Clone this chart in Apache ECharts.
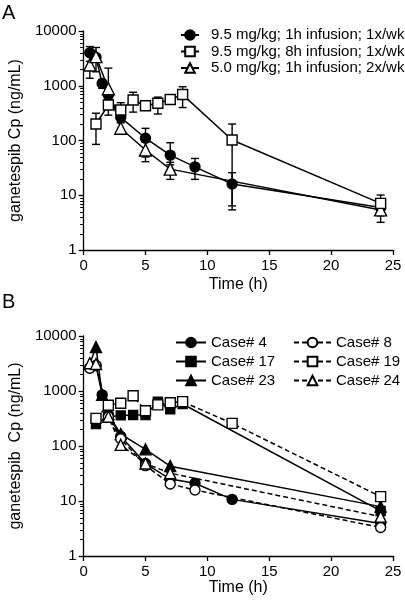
<!DOCTYPE html>
<html><head><meta charset="utf-8">
<script src="https://cdn.jsdelivr.net/npm/echarts@6/dist/echarts.min.js"></script>
<style>html,body{margin:0;padding:0;background:#fff}#c{width:405px;height:602px}</style>
</head><body><div id="c"></div>
<script>
// ---------- axis ticks ----------
const xTicks = [0, 5, 10, 15, 20, 25];
const yTickLabels = ['1', '10', '100', '1000', '10000'];

// ---------- Panel A (mean ± SD) ----------
const namesA = ['9.5 mg/kg; 1h infusion; 1x/wk', '9.5 mg/kg; 8h infusion; 1x/wk', '5.0 mg/kg; 1h infusion; 2x/wk'];
const tA1 = [0.5, 1, 1.5, 2, 3, 5, 7, 9, 12, 24];
const cpA1 = [4000, 3300, 1100, 680, 265, 110, 54, 33, 16, 6.0];
const loA1 = [2800, null, 900, 560, 215, 50, 36, 19.5, 6.4, 4.5];
const hiA1 = [5200, null, 1300, 800, 315, 167, 91, 47, 25.8, 7.5];

const tA2 = [1, 2, 3, 4, 5, 6, 7, 8, 12, 24];
const cpA2 = [200, 445, 360, 550, 430, 480, 560, 690, 102, 7.1];
const loA2 = [85, 290, 255, 330, 380, 305, 510, 400, 5.4, 4.2];
const hiA2 = [315, 630, 490, 760, 480, 620, 610, 960, 200, 10.1];

const tA3 = [0.5, 1, 2, 3, 5, 7, 24];
const cpA3 = [2400, 3400, 880, 167, 67, 30, 5.4];
const loA3 = [1370, 1800, 450, 130, 41, 19.5, 3.2];
const hiA3 = [3600, 5000, 2100, 210, 93, 40, 7.6];

// ---------- Panel B (individual cases) ----------
const namesB = ['Case# 4', 'Case# 17', 'Case# 23', 'Case# 8', 'Case# 19', 'Case# 24'];
const tB4 = [0.5, 1, 1.5, 2, 3, 5, 7, 9, 12, 24];
const cpB4 = [2650, 2900, 850, 360, 150, 48, 25, 21, 10.7, 3.9];
const tB17 = [1, 2, 3, 4, 5, 6, 7, 8, 24];
const cpB17 = [250, 340, 360, 365, 365, 640, 465, 580, 6.6];
const tB23 = [0.5, 1, 1.5, 2, 3, 5, 7, 24];
const cpB23 = [3100, 6300, 850, 380, 165, 87, 43, 7.9];
const tB8 = [0.5, 1, 2, 3, 5, 7, 9, 24];
const cpB8 = [2600, 2900, 340, 135, 44, 20.4, 15.8, 3.3];
const tB19 = [1, 2, 3, 4, 5, 6, 7, 8, 12, 24];
const cpB19 = [318, 550, 600, 820, 437, 560, 610, 640, 258, 12];
const tB24 = [0.5, 1, 2, 3, 5, 7, 24];
const cpB24 = [3200, 3100, 340, 105, 48, 32, 5.2];

// ---------- helpers ----------
const FONT = "'Liberation Sans', Arial, Helvetica, sans-serif";
const BLACK = '#000';
const pairs = (t, v) => t.map((x, i) => [x, v[i]]);

function lineSeries(name, gi, t, v, symbol, size, filled, dashed) {
  return {
    name, type: 'line', xAxisIndex: gi, yAxisIndex: gi,
    data: pairs(t, v), symbol, symbolSize: size, z: 3,
    showAllSymbol: true, animation: false,
    lineStyle: { color: BLACK, width: 1.5, type: dashed ? [5, 3] : 'solid' },
    itemStyle: { color: filled ? BLACK : '#fff', borderColor: BLACK, borderWidth: 1.4, opacity: 1 },
    emphasis: { disabled: true }
  };
}

function errorSeries(gi, t, lo, hi) {
  const data = [];
  t.forEach((x, i) => { if (lo[i] != null) data.push([x, lo[i], hi[i]]); });
  return {
    type: 'custom', xAxisIndex: gi, yAxisIndex: gi, data, z: 2, silent: true, clip: false,
    encode: { x: 0, y: [1, 2] }, animation: false,
    renderItem(params, api) {
      const x = api.value(0);
      const p1 = api.coord([x, api.value(1)]);
      const p2 = api.coord([x, api.value(2)]);
      const w = 4;
      const st = { stroke: BLACK, lineWidth: 1.4 };
      return { type: 'group', children: [
        { type: 'line', shape: { x1: p1[0], y1: p1[1], x2: p2[0], y2: p2[1] }, style: st },
        { type: 'line', shape: { x1: p1[0] - w, y1: p1[1], x2: p1[0] + w, y2: p1[1] }, style: st },
        { type: 'line', shape: { x1: p2[0] - w, y1: p2[1], x2: p2[0] + w, y2: p2[1] }, style: st }
      ]};
    }
  };
}

function xAxis(gi, gap) {
  return {
    type: 'value', gridIndex: gi, min: 0, max: 25, interval: 5,
    name: 'Time (h)', nameLocation: 'middle', nameGap: gap,
    nameTextStyle: { fontFamily: FONT, fontSize: 16, color: BLACK },
    axisLine: { lineStyle: { color: BLACK, width: 1.3 } },
    axisTick: { inside: false, length: 5, lineStyle: { color: BLACK, width: 1.3 } },
    axisLabel: { fontFamily: FONT, fontSize: 15, color: BLACK, margin: 8,
                 formatter: v => xTicks.includes(v) ? String(v) : '' },
    splitLine: { show: false }
  };
}
function yAxis(gi, name) {
  return {
    type: 'log', logBase: 10, gridIndex: gi, min: 1, max: 10000,
    name, nameLocation: 'middle', nameGap: 42,
    nameTextStyle: { fontFamily: FONT, fontSize: 16, color: BLACK },
    axisLine: { show: true, lineStyle: { color: BLACK, width: 1.3 } },
    axisTick: { show: true, inside: false, length: 5, lineStyle: { color: BLACK, width: 1.3 } },
    axisLabel: { fontFamily: FONT, fontSize: 15, color: BLACK, margin: 7,
                 formatter: v => { const s = String(Math.round(v)); return yTickLabels.includes(s) ? s : ''; } },
    splitLine: { show: false }
  };
}

function legend(names, left, top, itemWidth, gap, pad) {
  return {
    data: names, orient: 'vertical', left, top, padding: 0,
    itemWidth, itemHeight: 12, itemGap: gap, selectedMode: false,
    textStyle: { fontFamily: FONT, fontSize: 15, color: BLACK, lineHeight: 15, padding: [0, 0, 0, pad] }
  };
}

const chart = echarts.init(document.getElementById('c'), null, { renderer: 'canvas' });
chart.setOption({
  animation: false,
  backgroundColor: '#fff',
  title: [
    { text: 'A', left: 2, top: 3, padding: 0, textStyle: { fontFamily: FONT, fontSize: 20, fontWeight: 'normal', color: BLACK } },
    { text: 'B', left: 2, top: 292, padding: 0, textStyle: { fontFamily: FONT, fontSize: 20, fontWeight: 'normal', color: BLACK } }
  ],
  grid: [
    { left: 65, right: 12, top: 31, height: 219 },
    { left: 65, right: 12, top: 336, height: 220 }
  ],
  xAxis: [xAxis(0, 27), xAxis(1, 18)],
  yAxis: [yAxis(0, 'ganetespib Cp (ng/mL)'), yAxis(1, 'ganetespib  Cp (ng/mL)')],
  legend: [
    legend(namesA, 180, 27.5, 18, 1.5, 7),
    legend(namesB.slice(0, 3), 175, 335, 30, 4, 0),
    legend(namesB.slice(3), 293, 335, 37, 4, 0)
  ],
  series: [
    errorSeries(0, tA1, loA1, hiA1),
    errorSeries(0, tA2, loA2, hiA2),
    errorSeries(0, tA3, loA3, hiA3),
    lineSeries(namesA[0], 0, tA1, cpA1, 'circle', 10, true, false),
    lineSeries(namesA[2], 0, tA3, cpA3, 'triangle', 12, false, false),
    lineSeries(namesA[1], 0, tA2, cpA2, 'rect', 10, false, false),

    lineSeries(namesB[0], 1, tB4, cpB4, 'circle', 10, true, false),
    lineSeries(namesB[1], 1, tB17, cpB17, 'rect', 9, true, false),
    lineSeries(namesB[2], 1, tB23, cpB23, 'triangle', 11, true, false),
    lineSeries(namesB[3], 1, tB8, cpB8, 'circle', 10, false, true),
    lineSeries(namesB[4], 1, tB19, cpB19, 'rect', 10, false, true),
    lineSeries(namesB[5], 1, tB24, cpB24, 'triangle', 11, false, true)
  ]
});

// log-axis minor ticks (2..9 in each decade), placed through the axes' own scale
const minorVals = [];
for (let d = 1; d < 10000; d *= 10) for (let m = 2; m <= 9; m++) minorVals.push(d * m);
const tickEls = [];
[0, 1].forEach(gi => {
  minorVals.forEach(v => {
    const p = chart.convertToPixel({ gridIndex: gi }, [0, v]);
    if (!p) return;
    const y = Math.round(p[1]) + 0.5;
    tickEls.push({ type: 'line', silent: true, z: 100,
      shape: { x1: p[0] - 3.5, y1: y, x2: p[0], y2: y },
      style: { stroke: BLACK, lineWidth: 1 } });
  });
});
chart.setOption({ graphic: tickEls });
</script>
</body></html>
